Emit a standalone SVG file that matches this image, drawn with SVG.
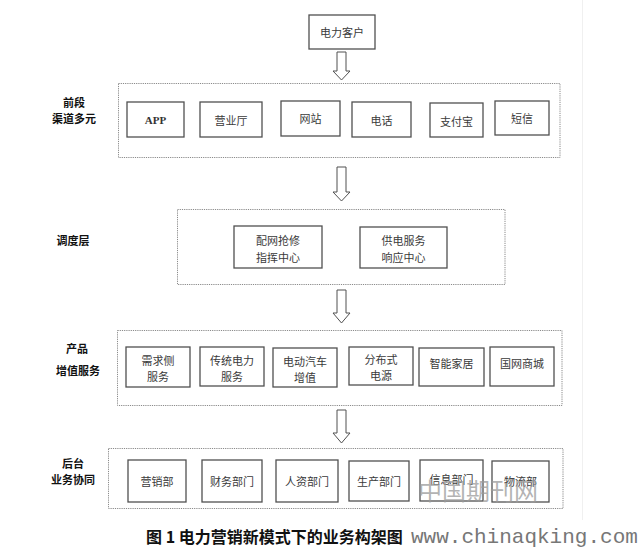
<svg xmlns="http://www.w3.org/2000/svg" width="643" height="549" viewBox="0 0 643 549">
<style>
.bg{fill:#ffffff}
.frame{fill:none;stroke:#8a8a8a;stroke-width:1;stroke-dasharray:1.2 1}
.box{fill:#ffffff;stroke:#505050;stroke-width:1.3}
.t{font-family:"Noto Sans CJK SC","Liberation Serif",serif;font-size:11px;fill:#3a3a3a;text-anchor:middle;dominant-baseline:central}
.lab{font-family:"Noto Sans CJK SC","Liberation Sans",sans-serif;font-size:11px;font-weight:bold;fill:#111;text-anchor:middle;dominant-baseline:central}
.app{font-family:"Liberation Serif",serif;font-size:11px;font-weight:bold;fill:#333;text-anchor:middle;dominant-baseline:central}
.arr{fill:#ffffff;stroke:#505050;stroke-width:1}
.cap{font-family:"Noto Sans CJK SC","Liberation Serif",sans-serif;font-size:16px;font-weight:bold;fill:#111}
.url{font-family:"Liberation Mono","DejaVu Sans Mono",monospace;font-size:21px;fill:#777}
.wm{font-family:"Noto Sans CJK SC",sans-serif;font-size:24px;fill:#9a9a9a;fill-opacity:0.75}
</style>
<rect class="bg" x="0" y="0" width="643" height="549"/>
<line x1="582.5" y1="0" x2="582.5" y2="520" stroke="#f0f0f0" stroke-width="1"/>

<g id="connectors">
<path class="arr" d="M337,52 H346 V71 H350 L341.5,80 L333,71 H337 Z"/>
<path class="arr" d="M337,167 H346 V192 H350 L341.5,201 L333,192 H337 Z"/>
<path class="arr" d="M337,290 H346 V313 H350 L341.5,323 L333,313 H337 Z"/>
<path class="arr" d="M337,410 H346 V433 H350 L341.5,443 L333,433 H337 Z"/>
</g>

<g id="customer">
<rect class="box" x="309" y="15" width="66" height="34"/>
<text class="t" x="342" y="32">电力客户</text>
</g>

<g id="layer-front">
<rect class="frame" x="118.5" y="83.5" width="441.5" height="74"/>
<text class="lab" x="74" y="102">前段</text>
<text class="lab" x="74" y="118">渠道多元</text>
<g id="n-app"><rect class="box" x="127" y="102" width="57" height="35"/><text class="app" x="155.5" y="120">APP</text></g>
<g id="n-hall"><rect class="box" x="200" y="102" width="62" height="35"/><text class="t" x="231" y="120">营业厅</text></g>
<g id="n-web"><rect class="box" x="281" y="101" width="59" height="35"/><text class="t" x="310.5" y="118">网站</text></g>
<g id="n-phone"><rect class="box" x="352" y="102" width="59" height="35"/><text class="t" x="381.5" y="120">电话</text></g>
<g id="n-alipay"><rect class="box" x="430" y="103" width="53" height="34"/><text class="t" x="456.5" y="121">支付宝</text></g>
<g id="n-sms"><rect class="box" x="495" y="101" width="54" height="34"/><text class="t" x="522" y="118">短信</text></g>
</g>

<g id="layer-dispatch">
<rect class="frame" x="177.5" y="209.5" width="327.5" height="75"/>
<text class="lab" x="73" y="240">调度层</text>
<g id="n-repair"><rect class="box" x="234" y="226" width="88" height="42"/><text class="t" x="278" y="240">配网抢修</text><text class="t" x="278" y="257">指挥中心</text></g>
<g id="n-supply"><rect class="box" x="360" y="227" width="87" height="41"/><text class="t" x="403.5" y="240">供电服务</text><text class="t" x="403.5" y="257">响应中心</text></g>
</g>

<g id="layer-product">
<rect class="frame" x="117.5" y="330.5" width="444.5" height="75"/>
<text class="lab" x="77" y="348">产品</text>
<text class="lab" x="78" y="370">增值服务</text>
<g id="n-demand"><rect class="box" x="126" y="347" width="64" height="40"/><text class="t" x="158" y="360">需求侧</text><text class="t" x="158" y="376">服务</text></g>
<g id="n-trad"><rect class="box" x="200" y="347" width="64" height="39"/><text class="t" x="232" y="360">传统电力</text><text class="t" x="232" y="376">服务</text></g>
<g id="n-ev"><rect class="box" x="273" y="348" width="64" height="39"/><text class="t" x="305" y="361">电动汽车</text><text class="t" x="305" y="377">增值</text></g>
<g id="n-dist"><rect class="box" x="349" y="347" width="64" height="38"/><text class="t" x="381" y="359">分布式</text><text class="t" x="381" y="375">电源</text></g>
<g id="n-home"><rect class="box" x="419" y="348" width="65" height="38"/><text class="t" x="451.5" y="363">智能家居</text></g>
<g id="n-mall"><rect class="box" x="490" y="347" width="64" height="39"/><text class="t" x="522" y="363">国网商城</text></g>
</g>

<g id="layer-back">
<rect class="frame" x="108.5" y="448.5" width="454.5" height="60"/>
<text class="lab" x="73" y="463">后台</text>
<text class="lab" x="73" y="479">业务协同</text>
<g id="n-mkt"><rect class="box" x="128" y="460" width="58" height="42"/><text class="t" x="157" y="481">营销部</text></g>
<g id="n-fin"><rect class="box" x="202" y="460" width="60" height="42"/><text class="t" x="232" y="481">财务部门</text></g>
<g id="n-hr"><rect class="box" x="276" y="460" width="62" height="42"/><text class="t" x="307" y="481">人资部门</text></g>
<g id="n-prod"><rect class="box" x="349" y="461" width="60" height="40"/><text class="t" x="379" y="481">生产部门</text></g>
<g id="n-info"><rect class="box" x="420" y="460" width="63" height="41"/><text class="t" x="451.5" y="479">信息部门</text></g>
<g id="n-log"><rect class="box" x="492" y="461" width="57" height="41"/><text class="t" x="520.5" y="481">物流部</text></g>
</g>

<text class="wm" x="418" y="500">中国期刊网</text>
<text class="cap" x="146" y="543">图 1 电力营销新模式下的业务构架图</text>
<text class="url" x="411" y="543">www.chinaqking.com</text>
</svg>
